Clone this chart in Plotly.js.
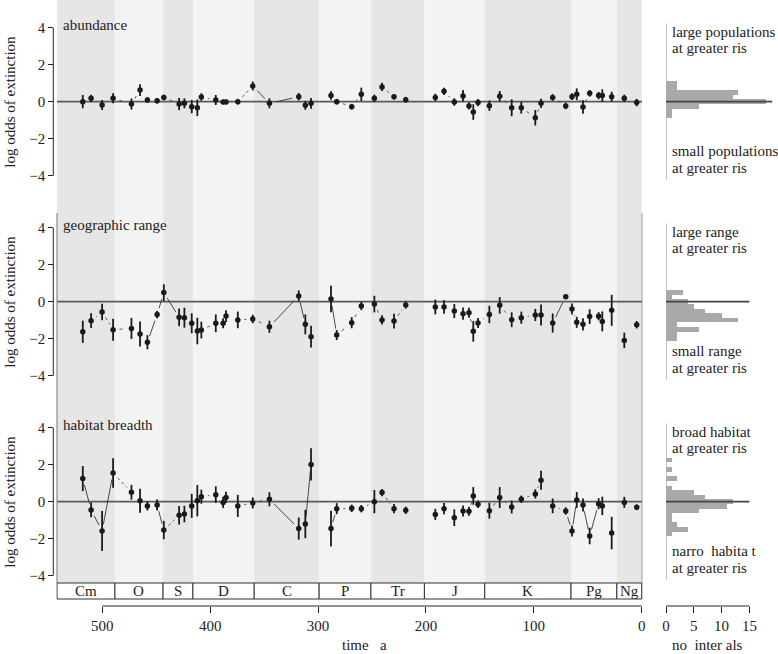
<!DOCTYPE html>
<html>
<head>
<meta charset="utf-8">
<script src="https://cdn.plot.ly/plotly-3.0.1.min.js"></script>
<style>html,body{margin:0;padding:0;background:#fff;}#chart{width:778px;height:654px;}</style>
</head>
<body>
<div id="chart"></div>
<script>
// ---------------- data ----------------
const periods = ['Cm','O','S','D','C','P','Tr','J','K','Pg','Ng'];
const periodBounds = [542, 488.3, 443.7, 416.0, 359.2, 299.0, 251.0, 201.4, 145.5, 65.5, 23.0, 0];

const times = [518.1, 510.4, 500.2, 490.0, 473.0, 465.0, 458.2, 449.2, 443.0, 428.8, 423.9, 417.1, 411.9, 408.2, 394.8, 388.0, 385.3, 374.4, 360.5, 345.1, 317.9, 311.8, 306.5, 288.0, 282.7, 268.8, 259.9, 247.8, 240.7, 229.6, 218.7, 191.3, 183.2, 173.7, 165.6, 160.1, 156.1, 151.7, 141.2, 131.6, 120.5, 111.6, 98.6, 93.3, 82.5, 70.4, 64.6, 60.2, 54.4, 48.2, 39.9, 36.5, 27.8, 16.1, 4.6];

const abundance = [0.0, 0.18, -0.18, 0.18, -0.13, 0.63, 0.09, 0.05, 0.23, -0.13, -0.09, -0.27, -0.33, 0.25, 0.09, -0.02, -0.02, 0.0, 0.85, -0.09, 0.27, -0.2, -0.09, 0.33, 0.0, -0.27, 0.4, 0.18, 0.8, 0.27, 0.11, 0.23, 0.56, -0.02, 0.31, -0.23, -0.56, -0.05, -0.22, 0.29, -0.33, -0.33, -0.87, -0.09, 0.23, -0.23, 0.27, 0.4, -0.29, 0.45, 0.33, 0.33, 0.27, 0.18, -0.05];
const abundanceErr = [0.36, 0.2, 0.27, 0.27, 0.3, 0.32, 0.15, 0.15, 0.15, 0.33, 0.27, 0.36, 0.45, 0.2, 0.27, 0.12, 0.12, 0.15, 0.24, 0.27, 0.2, 0.24, 0.29, 0.23, 0.15, 0.15, 0.36, 0.2, 0.22, 0.15, 0.15, 0.2, 0.2, 0.2, 0.32, 0.2, 0.42, 0.2, 0.28, 0.29, 0.46, 0.32, 0.42, 0.25, 0.18, 0.18, 0.18, 0.32, 0.36, 0.18, 0.2, 0.34, 0.27, 0.2, 0.2];

const geoRange = [-1.63, -1.03, -0.56, -1.52, -1.45, -1.75, -2.2, -0.7, 0.49, -0.85, -0.87, -1.17, -1.59, -1.54, -1.17, -1.17, -0.78, -0.99, -0.94, -1.36, 0.31, -1.23, -1.9, 0.14, -1.81, -1.14, -0.23, -0.13, -0.99, -1.05, -0.18, -0.29, -0.29, -0.51, -0.65, -0.6, -1.61, -1.16, -0.69, -0.2, -0.98, -0.87, -0.72, -0.72, -1.16, 0.27, -0.4, -1.12, -1.23, -0.81, -0.79, -1.07, -0.47, -2.1, -1.25];
const geoRangeErr = [0.6, 0.4, 0.45, 0.6, 0.57, 0.68, 0.38, 0.2, 0.45, 0.48, 0.54, 0.54, 0.72, 0.45, 0.48, 0.27, 0.32, 0.45, 0.23, 0.33, 0.3, 0.54, 0.59, 0.72, 0.27, 0.3, 0.23, 0.45, 0.25, 0.4, 0.2, 0.4, 0.36, 0.38, 0.33, 0.27, 0.56, 0.27, 0.47, 0.45, 0.4, 0.33, 0.33, 0.57, 0.52, 0.12, 0.3, 0.3, 0.33, 0.4, 0.22, 0.54, 0.84, 0.42, 0.2];

const habitat = [1.25, -0.45, -1.59, 1.55, 0.51, 0.05, -0.23, -0.18, -1.54, -0.74, -0.67, -0.23, 0.05, 0.27, 0.38, -0.04, 0.23, -0.23, -0.07, 0.13, -1.46, -1.21, 2.02, -1.46, -0.38, -0.36, -0.38, 0.0, 0.49, -0.38, -0.47, -0.69, -0.38, -0.87, -0.51, -0.52, 0.31, -0.14, -0.49, 0.22, -0.29, 0.13, 0.42, 1.16, -0.23, -0.51, -1.59, 0.09, -0.18, -1.86, -0.11, -0.23, -1.7, -0.04, -0.31];
const habitatErr = [0.68, 0.4, 1.08, 0.8, 0.4, 0.65, 0.25, 0.3, 0.5, 0.5, 0.45, 0.65, 0.85, 0.38, 0.45, 0.3, 0.3, 0.6, 0.3, 0.38, 0.6, 0.77, 0.87, 0.97, 0.3, 0.2, 0.2, 0.63, 0.2, 0.25, 0.2, 0.3, 0.3, 0.45, 0.3, 0.25, 0.48, 0.2, 0.43, 0.57, 0.35, 0.2, 0.25, 0.52, 0.4, 0.2, 0.3, 0.43, 0.35, 0.45, 0.3, 0.5, 0.88, 0.3, 0.15];

// significant changes (segment i -> i+1, 1-based) and unlinked intervals
const abundanceSignif = [19, 20];
const geoRangeSignif = [7, 8, 9, 20, 21, 22, 24, 45];
const habitatSignif = [1, 2, 3, 8, 20, 22, 24, 46, 47, 49, 50];
const unlinked = [23, 31, 44, 52, 53, 54];

// histograms of estimates (bin centres, counts)
const histBins1 = [1.0, 0.75, 0.5, 0.25, 0, -0.25, -0.5, -0.75];
const histCounts1 = [2, 2, 13, 12, 18, 6, 1, 1];
const histBins2 = [0.5, 0.25, 0, -0.25, -0.5, -0.75, -1.0, -1.25, -1.5, -1.75, -2.0];
const histCounts2 = [3, 1, 4, 5, 7, 10, 13, 2, 6, 2, 2];
const histBins3 = [2.25, 1.75, 1.25, 0.75, 0.5, 0.25, 0, -0.25, -0.5, -0.75, -1.0, -1.25, -1.5, -1.75];
const histCounts3 = [1, 1, 2, 1, 5, 7, 12, 11, 6, 1, 1, 2, 4, 1];

const panelTitles = ['abundance', 'geographic range', 'habitat breadth'];
const histTop = ['large populations', 'large range', 'broad habitat'];
const histBottom = ['small populations', 'small range', 'narro\u00a0\u00a0habita\u00a0t'];
const riskText = 'at greater ris';
const yTitle = 'log odds of extinction';
const xTitle = 'time\u00a0\u00a0\u00a0a';
const histXTitle = 'no\u00a0\u00a0inter\u00a0als';
const timeTicks = [500, 400, 300, 200, 100, 0];
const countTicks = [0, 5, 10, 15];
const yTicks = [-4, -2, 0, 2, 4];

// ---------------- layout helpers ----------------
const W = 778, H = 654;
const FONT = 'Liberation Serif';
const px = v => v / W;
const py = v => 1 - v / H;
const KX = 584.7 / 542.3, KY = 18.45, GAP = 6.5;

function linkCodes(signif) {
  const arr = [];
  for (let i = 1; i < times.length; i++) {
    if (unlinked.includes(i)) arr.push(0);
    else if (signif.includes(i)) arr.push(2);
    else arr.push(1);
  }
  return arr;
}

function segments(vals, codes, code) {
  const xs = [], ys = [];
  for (let i = 0; i < vals.length - 1; i++) {
    if (codes[i] !== code) continue;
    const dx = (times[i] - times[i + 1]) * KX, dy = (vals[i + 1] - vals[i]) * KY;
    const L = Math.hypot(dx, dy);
    if (L <= 2 * GAP + 1) continue;
    const f = GAP / L;
    const tx = times[i + 1] - times[i], vy = vals[i + 1] - vals[i];
    xs.push(times[i] + tx * f, times[i + 1] - tx * f, null);
    ys.push(vals[i] + vy * f, vals[i + 1] - vy * f, null);
  }
  return {xs, ys};
}

const series = [
  {vals: abundance, err: abundanceErr, sig: abundanceSignif, ya: 'y'},
  {vals: geoRange, err: geoRangeErr, sig: geoRangeSignif, ya: 'y2'},
  {vals: habitat, err: habitatErr, sig: habitatSignif, ya: 'y3'}
];
const hists = [
  {bins: histBins1, counts: histCounts1, zl: 19.1},
  {bins: histBins2, counts: histCounts2, zl: 15},
  {bins: histBins3, counts: histCounts3, zl: 15}
];

const traces = [];
series.forEach(s => {
  const codes = linkCodes(s.sig);
  const d = segments(s.vals, codes, 1);
  traces.push({type: 'scatter', mode: 'lines', x: d.xs, y: d.ys, xaxis: 'x', yaxis: s.ya,
    line: {color: '#333', width: 0.8, dash: '3px,3px'}, hoverinfo: 'skip', showlegend: false});
  const sd = segments(s.vals, codes, 2);
  traces.push({type: 'scatter', mode: 'lines', x: sd.xs, y: sd.ys, xaxis: 'x', yaxis: s.ya,
    line: {color: '#333', width: 0.9}, hoverinfo: 'skip', showlegend: false});
  traces.push({type: 'scatter', mode: 'markers', x: times, y: s.vals, xaxis: 'x', yaxis: s.ya,
    marker: {color: '#1a1a1a', size: 5.5},
    error_y: {type: 'data', array: s.err, visible: true, width: 0, thickness: 1.8, color: '#1a1a1a'},
    showlegend: false});
});
hists.forEach((h, k) => {
  traces.push({type: 'bar', orientation: 'h', x: h.counts, y: h.bins, width: 0.25,
    xaxis: 'x2', yaxis: series[k].ya, marker: {color: '#a9a9a9', line: {width: 0}}, showlegend: false});
});

// ---------------- shapes ----------------
const shapes = [];
const yBarTop = py(583), yBarBot = py(599);
for (let i = 0; i < periods.length; i++) {
  shapes.push({type: 'rect', layer: 'below', xref: 'x', yref: 'paper',
    x0: periodBounds[i], x1: periodBounds[i + 1], y0: yBarTop, y1: 1,
    fillcolor: i % 2 === 0 ? '#e6e6e6' : '#f3f3f3', line: {width: 0}});
}
series.forEach(s => {
  shapes.push({type: 'line', layer: 'below', xref: 'x', yref: s.ya, x0: 542, x1: -0.3, y0: 0, y1: 0,
    line: {color: '#5a5a5a', width: 1.6}});
  shapes.push({type: 'line', xref: 'paper', yref: s.ya, x0: px(53.3), x1: px(53.3), y0: -4, y1: 4,
    line: {color: '#222', width: 1}});
});
// frame lines of lower panels
shapes.push({type: 'line', xref: 'paper', yref: 'paper', x0: px(57), x1: px(57), y0: py(213), y1: py(599), line: {color: '#777', width: 1}});
shapes.push({type: 'line', xref: 'paper', yref: 'paper', x0: px(642), x1: px(642), y0: py(213), y1: py(599), line: {color: '#999', width: 1}});
// period bar
for (let i = 0; i < periods.length; i++) {
  shapes.push({type: 'rect', xref: 'x', yref: 'paper', x0: periodBounds[i], x1: periodBounds[i + 1],
    y0: yBarBot, y1: yBarTop, fillcolor: '#ffffff', line: {color: '#333', width: 1}});
}
// histogram frames
hists.forEach((h, k) => {
  shapes.push({type: 'line', layer: 'below', xref: 'x2', yref: series[k].ya, x0: 0, x1: 0, y0: -4.25, y1: 4.25,
    line: {color: '#aaa', width: 1.5}});
  shapes.push({type: 'line', xref: 'x2', yref: series[k].ya, x0: 0, x1: h.zl, y0: 0, y1: 0,
    line: {color: '#444', width: 1.6}});
});
// axis lines
shapes.push({type: 'line', xref: 'x', yref: 'paper', x0: timeTicks[0], x1: timeTicks[timeTicks.length - 1], y0: py(606), y1: py(606), line: {color: '#222', width: 1}});
shapes.push({type: 'line', xref: 'x2', yref: 'paper', x0: countTicks[0], x1: countTicks[countTicks.length - 1], y0: py(606), y1: py(606), line: {color: '#222', width: 1}});

// ---------------- annotations ----------------
const ann = [];
const f15 = {family: FONT, size: 15, color: '#222'};
series.forEach((s, k) => {
  ann.push({xref: 'paper', yref: s.ya, x: px(61), y: 4.15, text: panelTitles[k], showarrow: false, xanchor: 'left', yanchor: 'middle', font: f15});
  ann.push({xref: 'paper', yref: s.ya, x: px(10), y: 0, text: yTitle, textangle: -90, showarrow: false, xanchor: 'center', yanchor: 'middle', font: f15});
  ann.push({xref: 'paper', yref: s.ya, x: px(670), y: 3.79, text: histTop[k], showarrow: false, xanchor: 'left', yanchor: 'middle', font: f15});
  ann.push({xref: 'paper', yref: s.ya, x: px(670), y: 2.93, text: riskText, showarrow: false, xanchor: 'left', yanchor: 'middle', font: f15});
  ann.push({xref: 'paper', yref: s.ya, x: px(670), y: -2.66, text: histBottom[k], showarrow: false, xanchor: 'left', yanchor: 'middle', font: f15});
  ann.push({xref: 'paper', yref: s.ya, x: px(670), y: -3.58, text: riskText, showarrow: false, xanchor: 'left', yanchor: 'middle', font: f15});
});
for (let i = 0; i < periods.length; i++) {
  ann.push({xref: 'x', yref: 'paper', x: (periodBounds[i] + periodBounds[i + 1]) / 2, y: py(591),
    text: periods[i], showarrow: false, xanchor: 'center', yanchor: 'middle', font: f15});
}
ann.push({xref: 'paper', yref: 'paper', x: px(340), y: py(645), text: xTitle, showarrow: false, xanchor: 'left', yanchor: 'middle', font: f15});
ann.push({xref: 'paper', yref: 'paper', x: px(707), y: py(645), text: histXTitle, showarrow: false, xanchor: 'center', yanchor: 'middle', font: f15});

// ---------------- axes ----------------
function yAxis(domain, range) {
  return {domain: domain, range: range, anchor: 'free', position: px(53.3), tickmode: 'array', tickvals: yTicks,
    ticks: 'outside', ticklen: 5, tickwidth: 1, tickcolor: '#222', showline: false, showgrid: false, zeroline: false,
    tickfont: f15, fixedrange: true};
}
const layout = {
  width: W, height: H, margin: {l: 0, r: 0, t: 0, b: 0},
  font: {family: FONT, size: 15, color: '#222'},
  paper_bgcolor: '#fff', plot_bgcolor: 'rgba(0,0,0,0)', showlegend: false, bargap: 0,
  xaxis: {domain: [px(57), px(642)], range: [542, -0.3], anchor: 'free', position: py(606),
    tickmode: 'array', tickvals: timeTicks, ticks: 'outside', ticklen: 6, tickwidth: 1, tickcolor: '#222',
    showline: false, showgrid: false, zeroline: false, tickfont: f15},
  xaxis2: {domain: [px(666), 1], range: [0, 112 / 5.56], anchor: 'free', position: py(606),
    tickmode: 'array', tickvals: countTicks, ticks: 'outside', ticklen: 6, tickwidth: 1, tickcolor: '#222',
    showline: false, showgrid: false, zeroline: false, tickfont: f15},
  yaxis: yAxis([py(200), 1], [-5.33, 5.51]),
  yaxis2: yAxis([py(400), py(200)], [-5.33, 5.51]),
  yaxis3: yAxis([py(583), py(400)], [-4.41, 5.51]),
  shapes: shapes, annotations: ann
};
Plotly.newPlot('chart', traces, layout, {staticPlot: true, displayModeBar: false});
</script>
</body>
</html>
